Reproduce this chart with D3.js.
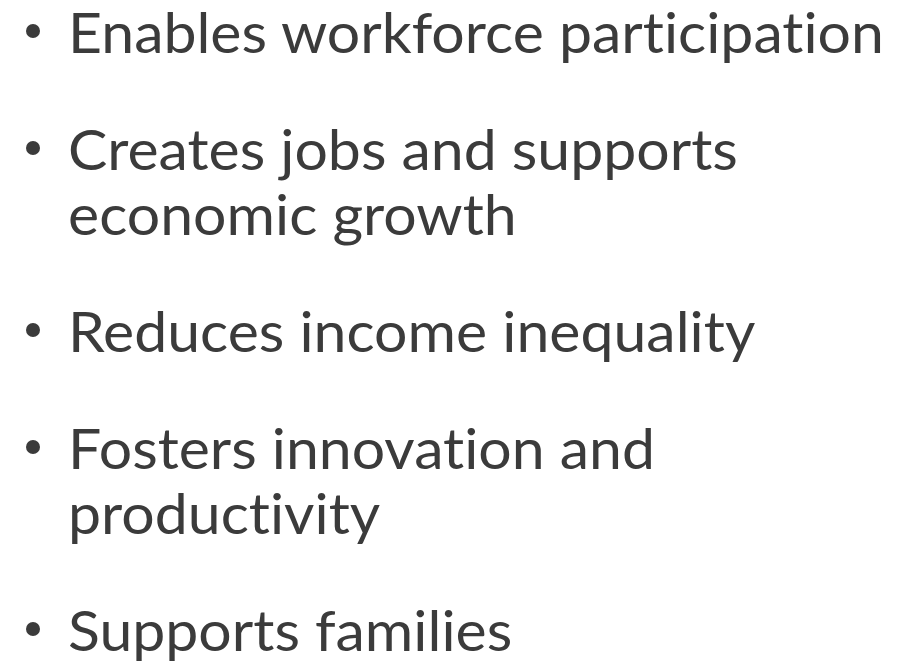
<!DOCTYPE html>
<html>
<head>
<meta charset="utf-8">
<script src="https://cdn.jsdelivr.net/npm/d3@7"></script>
<style>
  body { margin: 0; background: #fff; }
  text { font-variant-ligatures: none; font-feature-settings: "liga" 0; }
</style>
</head>
<body>
<div id="chart"></div>
<script>
// Itens da lista (cada item pode ter várias linhas)
const items = [
  ["Enables workforce participation"],
  ["Creates jobs and supports", "economic growth"],
  ["Reduces income inequality"],
  ["Fosters innovation and", "productivity"],
  ["Supports families"]
];

// Tamanho da área
const width = 904;
const height = 667;

// Parâmetros do texto
const fontSize = 56;
const lineGap = 65;     // entre linhas do mesmo item
const itemGap = 117;    // da última linha de um item até o próximo
const textX = 68;
const bulletX = 33;
const targetWidth = 816; // largura da primeira linha na referência

const svg = d3.select("#chart")
  .append("svg")
  .attr("width", width)
  .attr("height", height);

// Calcula a linha de base de cada item
let y = 53;
const layout = items.map(lines => {
  const entry = { lines: lines, y: y };
  y += (lines.length - 1) * lineGap + itemGap;
  return entry;
});

const g = svg.selectAll(".item")
  .data(layout)
  .enter()
  .append("g")
  .attr("class", "item")
  .attr("transform", d => `translate(0,${d.y})`);

// Marcadores
g.append("circle")
  .attr("cx", bulletX)
  .attr("cy", -22)
  .attr("r", 7)
  .attr("fill", "#3b3b3b");

// Textos
const texts = g.append("text")
  .attr("font-family", "Lato, 'Open Sans', sans-serif")
  .attr("font-size", fontSize)
  .attr("fill", "#3b3b3b");

texts.selectAll("tspan")
  .data(d => d.lines)
  .enter()
  .append("tspan")
  .attr("x", 0)
  .attr("y", (d, i) => i * lineGap)
  .text(d => d);

// Ajusta a largura para aproximar a fonte original
const firstLen = texts.filter((d, i) => i === 0).node().getComputedTextLength();
const sx = targetWidth / firstLen;
texts.attr("transform", `translate(${textX},0) scale(${sx},1)`);
</script>
</body>
</html>
